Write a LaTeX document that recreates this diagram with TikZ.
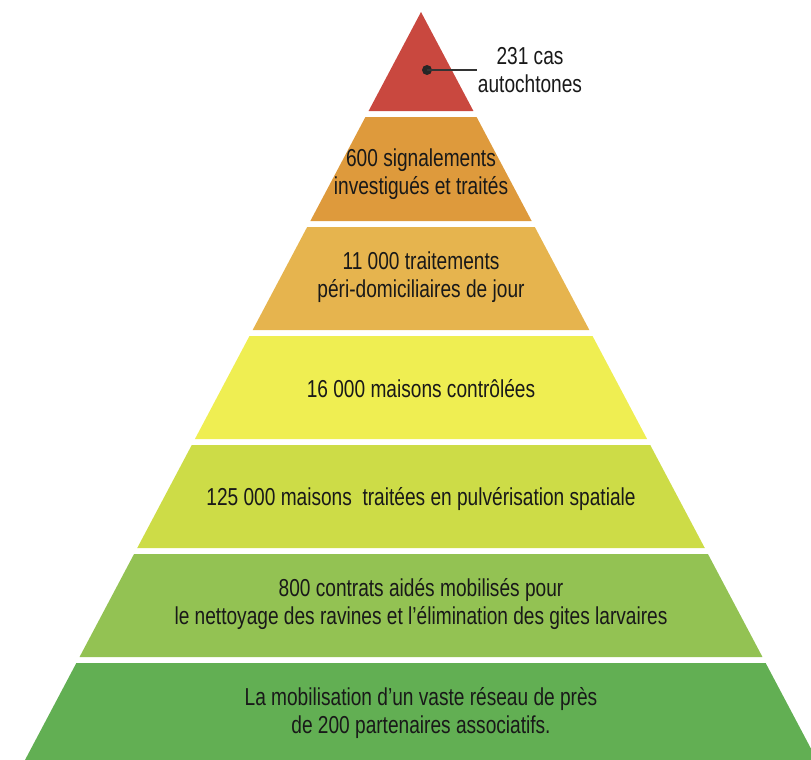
\documentclass[tikz,border=0pt]{standalone}
\usepackage{fontspec}
\setmainfont[FakeStretch=0.78]{Liberation Sans}
\definecolor{cA}{HTML}{C9483F}
\definecolor{cB}{HTML}{DE9A3C}
\definecolor{cC}{HTML}{E6B44E}
\definecolor{cD}{HTML}{EFEE52}
\definecolor{cE}{HTML}{CDDC47}
\definecolor{cF}{HTML}{93C253}
\definecolor{cG}{HTML}{62AF53}
\tikzset{
  lbl/.style={align=center, font=\fontsize{24.5}{28}\selectfont, text=black!90, inner sep=0pt},
}
\newcommand{\band}[3]{%
  \fill[#3] ({421-0.5294*(#1-12)},#1) -- ({421+0.5294*(#1-12)},#1) --
    ({421+0.5294*(#2-12)},#2) -- ({421-0.5294*(#2-12)},#2) -- cycle;}
\begin{document}
\begin{tikzpicture}[x=1pt,y=-1pt]
\useasboundingbox (0,0) rectangle (811,760);
\clip (0,0) rectangle (811,760);
\fill[cA] (421,12) -- ({421+0.5294*99},111) -- ({421-0.5294*99},111) -- cycle;
\band{117}{221}{cB}
\band{227}{330}{cC}
\band{336}{439}{cD}
\band{445}{548}{cE}
\band{554}{657}{cF}
\band{663}{760}{cG}
\coordinate (dot) at (427,70);
\coordinate (lineend) at (477,70);
\fill[black!85] (dot) circle (5);
\draw[black!80, line width=1.2] (dot) -- (lineend);
\node[lbl] (t1) at (530,70) {231 cas\\autochtones};
\node[lbl] (t2) at (421,174) {600 signalements\\investigués et traités};
\node[lbl] (t3) at (421,277) {11 000 traitements\\péri-domiciliaires de jour};
\node[lbl] (t4) at (421,389) {16 000 maisons contrôlées};
\node[lbl] (t5) at (421,499) {125 000 maisons\ \ traitées en pulvérisation spatiale};
\node[lbl] (t6) at (421,604) {800 contrats aidés mobilisés pour\\le nettoyage des ravines et l’élimination des gites larvaires};
\node[lbl] (t7) at (421,713) {La mobilisation d’un vaste réseau de près\\de 200 partenaires associatifs.};
\end{tikzpicture}
\end{document}
